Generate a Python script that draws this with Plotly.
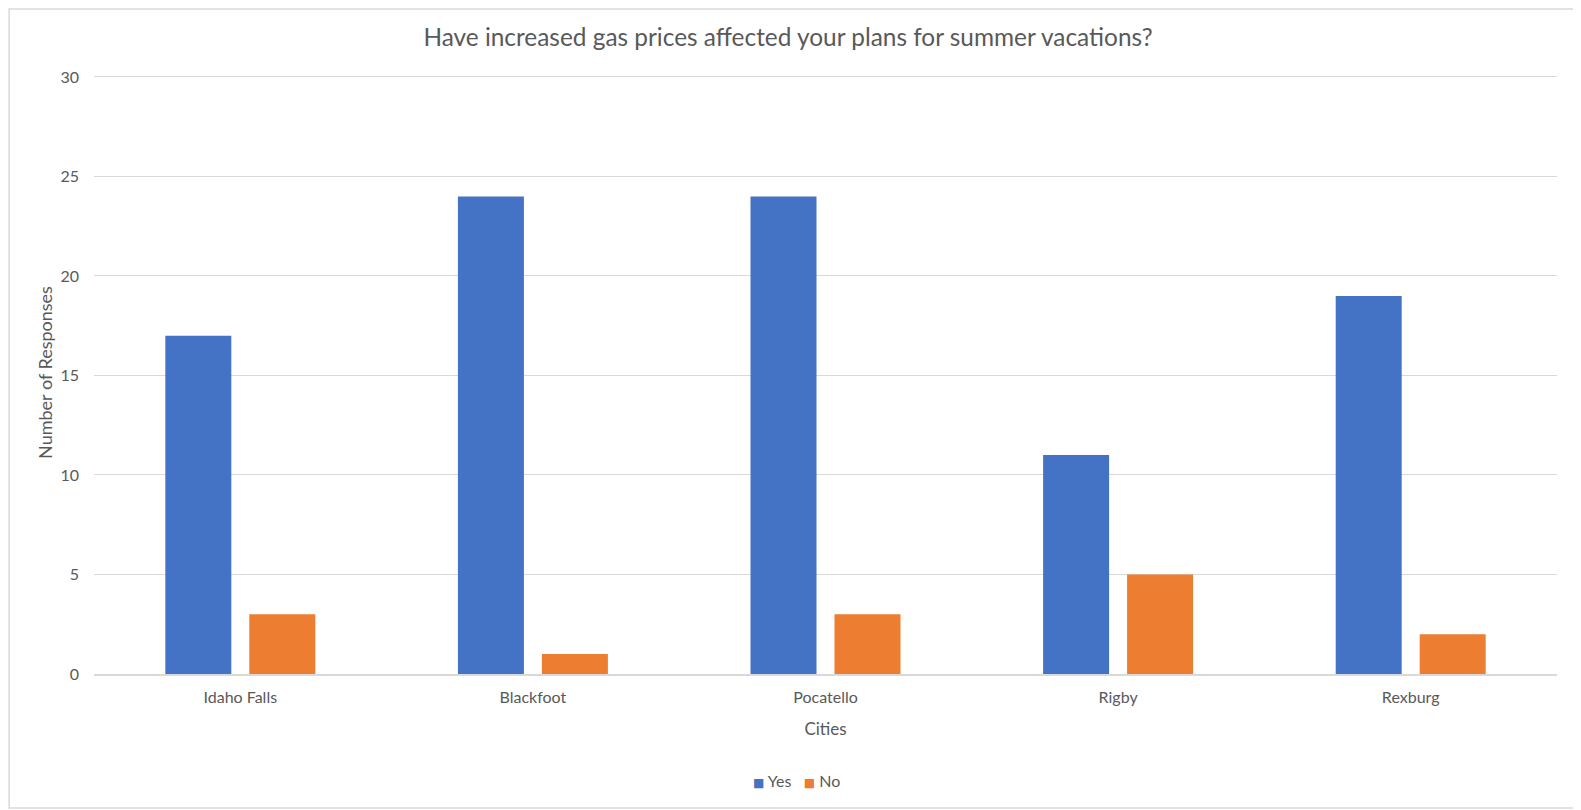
import plotly.graph_objects as go

cities = ["Idaho Falls", "Blackfoot", "Pocatello", "Rigby", "Rexburg"]
yes_counts = [17, 24, 24, 11, 19]
no_counts = [3, 1, 3, 5, 2]
y_ticks = [0, 5, 10, 15, 20, 25, 30]

text_color = "#595959"
grid_color = "#D9D9D9"
yes_color = "#4472C4"
no_color = "#ED7D31"
font_family = "Lato, Carlito, Calibri, sans-serif"

fig = go.Figure()
fig.add_trace(go.Bar(x=cities, y=yes_counts, name="Yes", marker_color=yes_color,
                     marker_line_width=0))
fig.add_trace(go.Bar(x=cities, y=no_counts, name="No", marker_color=no_color,
                     marker_line_width=0))

# light frame around the whole chart, like the Excel chart area
fig.add_shape(type="rect", xref="paper", yref="paper",
              x0=-0.058, x1=1.0137, y0=-0.2222, y1=1.1028,
              line=dict(color=grid_color, width=1.5), layer="below")

# compact Excel-style legend (plotly's own legend spaces items too widely)
sq = "<span style='font-family:DejaVu Sans;font-size:12px;color:{}'>■</span>"
legend_text = sq.format(yes_color) + " Yes&nbsp;&nbsp;&nbsp;" + sq.format(no_color) + " No"
fig.add_annotation(text=legend_text, xref="paper", yref="paper",
                   x=0.4805, y=-0.1774, xanchor="center", yanchor="middle",
                   showarrow=False, font=dict(size=16, color=text_color))

# page body has an 8px margin, so the figure is a bit smaller than the window
fig.update_layout(
    width=1573, height=802,
    margin=dict(l=86, r=24, t=63, b=136),
    plot_bgcolor="white", paper_bgcolor="white",
    font=dict(family=font_family, color=text_color, size=16),
    title=dict(text="Have increased gas prices affected your plans for summer vacations?",
               x=0.4959, xanchor="center", y=0.9638, yanchor="middle",
               font=dict(size=24.4, color=text_color)),
    barmode="group", bargap=0.426, bargroupgap=0.214,
    showlegend=False,
)

fig.update_xaxes(
    title=dict(text="Cities", font=dict(size=17, color=text_color), standoff=18),
    showline=True, linecolor=grid_color, linewidth=1.5,
    showgrid=False, ticks="", ticklabelstandoff=8,
    tickfont=dict(size=16, color=text_color),
)
fig.update_yaxes(
    title=dict(text="Number of Responses", font=dict(size=18, color=text_color), standoff=3),
    range=[0, 30.3], tickvals=y_ticks,
    showgrid=True, gridcolor=grid_color, gridwidth=1.3,
    zeroline=False, showline=False, ticks="", ticklabelstandoff=14,
    tickfont=dict(size=16, color=text_color),
)

fig.write_html("out.html")
